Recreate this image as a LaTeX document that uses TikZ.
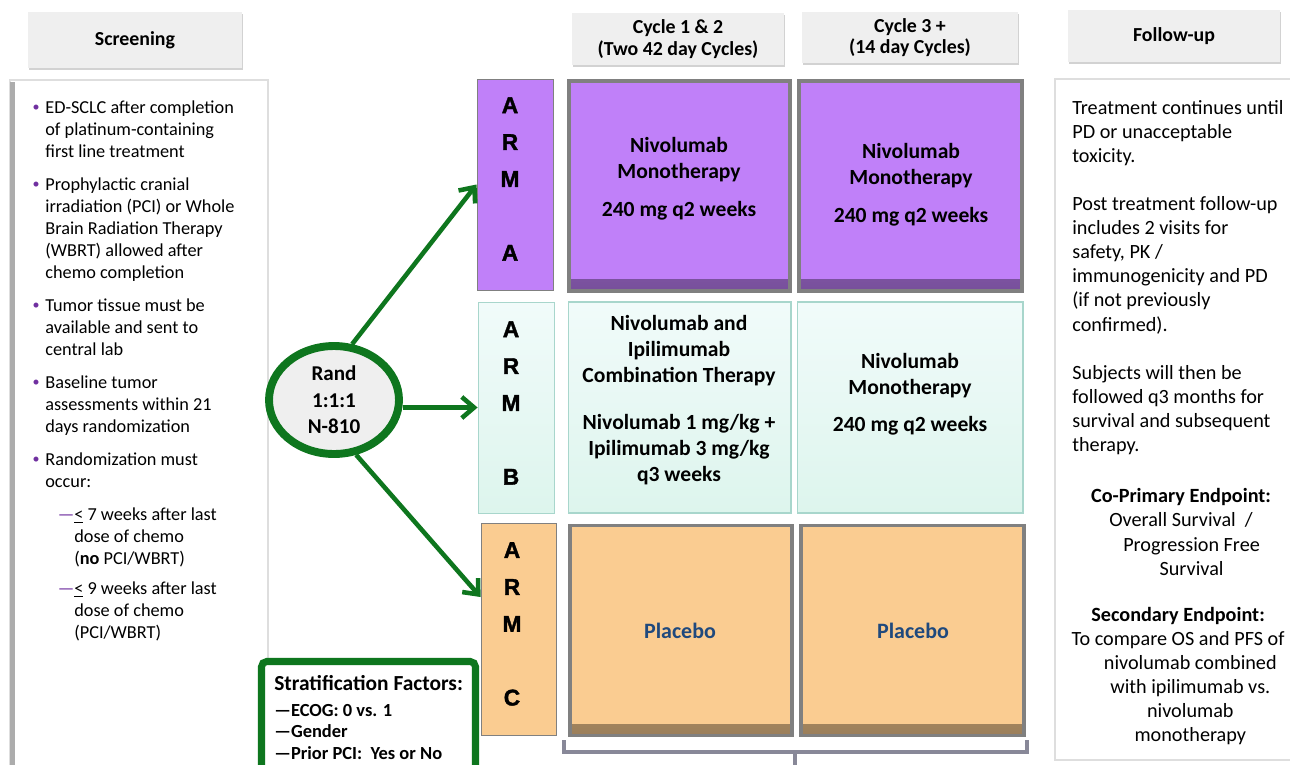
\documentclass[tikz,border=0pt]{standalone}
\usepackage{fontspec}
\setmainfont{Carlito}
\newfontfamily\armfont{Liberation Sans}[BoldFeatures={FakeBold=1.6}]
\usetikzlibrary{arrows.meta,shapes.geometric,shadows}

\definecolor{armpurple}{RGB}{192,128,249}
\definecolor{armcyantop}{RGB}{241,251,250}
\definecolor{armcyanbot}{RGB}{221,245,237}
\definecolor{armcyanline}{RGB}{168,214,204}
\definecolor{armorange}{RGB}{250,204,145}
\definecolor{cellgray}{RGB}{128,128,128}
\definecolor{headgray}{RGB}{239,239,239}
\definecolor{boxgray}{RGB}{222,222,222}
\definecolor{randgreen}{RGB}{14,118,30}
\definecolor{bulletpurple}{RGB}{112,48,160}
\definecolor{placeboblue}{RGB}{31,73,125}
\definecolor{bracketgray}{RGB}{136,136,152}

\begin{document}
\begin{tikzpicture}[x=0.02cm, y=-0.02cm,
  header/.style={fill=headgray, align=center, inner sep=0pt,
    font=\bfseries\fontsize{11.3}{12.2}\selectfont,
    drop shadow={opacity=0.35, shadow xshift=0.6pt, shadow yshift=-1.4pt}},
  armstrip/.style={draw=cellgray, line width=0.5pt, minimum width=1.52cm, minimum height=4.22cm, inner sep=0pt,
    drop shadow={opacity=0.25, shadow xshift=0.6pt, shadow yshift=-0.8pt}},
  armletters/.style={font=\armfont\bfseries\fontsize{13}{21}\selectfont, align=center, inner sep=0pt},
  cell/.style={draw=cellgray, line width=2.2pt, minimum height=4.2cm, inner sep=0pt,
    path picture={\shade[top color=#1, bottom color=#1!62!black]
      ([yshift=0.22cm]path picture bounding box.south west) rectangle (path picture bounding box.south east);},
    fill=#1},
  cyancell/.style={draw=armcyanline, line width=0.6pt, minimum height=4.22cm, inner sep=0pt,
    top color=armcyantop, bottom color=armcyanbot,
    drop shadow={opacity=0.25, shadow xshift=0.6pt, shadow yshift=-0.8pt}},
  celltext/.style={font=\bfseries\fontsize{12.3}{14.7}\selectfont, align=center, inner sep=0pt},
  randarrow/.style={-{Straight Barb[length=7pt,width=12pt]}, draw=randgreen, line width=2.6pt},
  screentext/.style={anchor=north west, inner sep=0pt, align=left, font=\fontsize{10.4}{12.6}\selectfont},
  bulletmark/.style={text=bulletpurple, inner sep=0pt, font=\fontsize{8}{8}\selectfont},
  followtext/.style={inner sep=0pt, align=left, font=\fontsize{11.5}{13.7}\selectfont}
]
\useasboundingbox (0,0) rectangle (1290,764);
\fill[white] (0,0) rectangle (1290,764);

% column heads
\node[header, minimum width=4.28cm, minimum height=1.12cm] (screenhead) at (135,40) {Screening};
\node[header, minimum width=4.24cm, minimum height=1.04cm] (cyclehead1) at (678,39) {Cycle 1 \& 2\\(Two 42 day Cycles)};
\node[header, minimum width=4.32cm, minimum height=1.02cm] (cyclehead2) at (910,37.5) {Cycle 3 +\\(14 day Cycles)};
\node[header, minimum width=4.24cm, minimum height=1.04cm] (followhead) at (1174,36) {Follow-up};

% screening
\draw[boxgray, line width=1.2pt, fill=white] (10,80) rectangle (268,800);
\draw[gray!65, line width=2.4pt] (12.5,82) -- (12.5,800);
\node[bulletmark] (b1) at (36,108) {•};
\node[screentext] (s1) at (45,100) {ED-SCLC after completion\\of platinum-containing\\first line treatment};
\node[bulletmark] (b2) at (36,185) {•};
\node[screentext] (s2) at (45,177) {Prophylactic cranial\\irradiation (PCI) or Whole\\Brain Radiation Therapy\\(WBRT) allowed after\\chemo completion};
\node[bulletmark] (b3) at (36,306) {•};
\node[screentext] (s3) at (45,298) {Tumor tissue must be\\available and sent to\\central lab};
\node[bulletmark] (b4) at (36,383) {•};
\node[screentext] (s4) at (45,375) {Baseline tumor\\assessments within 21\\days randomization};
\node[bulletmark] (b5) at (36,460) {•};
\node[screentext] (s5) at (45,452) {Randomization must\\occur:};
\node[screentext] (s6) at (74,507) {\llap{\textcolor{bulletpurple}{—}}\underline{<} 7 weeks after last\\dose of chemo\\(\textbf{no} PCI/WBRT)};
\node[screentext] (s7) at (74,581) {\llap{\textcolor{bulletpurple}{—}}\underline{<} 9 weeks after last\\dose of chemo\\(PCI/WBRT)};

% randomisation
\node[ellipse, draw=randgreen, line width=4.5pt, fill=headgray, minimum width=2.6cm, minimum height=2.16cm,
  inner sep=0pt, align=center, font=\bfseries\fontsize{12}{15}\selectfont,
  drop shadow={opacity=0.2, shadow xshift=0.5pt, shadow yshift=-0.8pt}] (rand) at (334,400) {Rand\\1:1:1\\N-810};

% stratification
\draw[randgreen, line width=4pt, rounded corners=3pt, fill=white] (261.5,800) -- (261.5,661.5) -- (475.5,661.5) -- (475.5,800);
\node[screentext, font=\bfseries\fontsize{10.5}{12.3}\selectfont] (strat) at (274,675) {{\fontsize{12.2}{12.5}\selectfont Stratification Factors:}\\[2.3pt]—ECOG: 0 vs. 1\\—Gender\\—Prior PCI:\ \ Yes or No};

% arms
\node[armstrip, fill=armpurple] (armA) at (515,184.5) {};
\node[armstrip, draw=armcyanline, top color=armcyantop, bottom color=armcyanbot] (armB) at (516,407.5) {};
\node[armstrip, fill=armorange, minimum width=1.5cm, minimum height=4.24cm] (armC) at (518.5,629) {};
\node[armletters] at (510,179) {A\\R\\M\\[21pt]A};
\node[armletters] at (511,403) {A\\R\\M\\[21pt]B};
\node[armletters] at (512,624) {A\\R\\M\\[21pt]C};

\draw[randarrow] (rand.72) -- (armA.west);
\draw[randarrow] (rand.east |- armB.west) -- (armB.west);
\draw[randarrow] (rand.-68) -- ([yshift=0.64cm]armC.west);

% treatment cells
\node[cell=armpurple, minimum width=4.42cm] (cellA1) at (679.5,186) {};
\node[cell=armpurple, minimum width=4.46cm] (cellA2) at (910.5,186) {};
\node[cyancell, minimum width=4.46cm] (cellB1) at (679.5,407.5) {};
\node[cyancell, minimum width=4.52cm] (cellB2) at (910,407.5) {};
\node[cell=armorange, minimum width=4.44cm] (cellC1) at (681,630.5) {};
\node[cell=armorange, minimum width=4.46cm] (cellC2) at (912.5,630.5) {};

\node[celltext] at (679,179) {Nivolumab\\Monotherapy\\[6.8pt]240 mg q2 weeks};
\node[celltext] at (911,185) {Nivolumab\\Monotherapy\\[6.8pt]240 mg q2 weeks};
\node[celltext] at (679,400) {Nivolumab and\\Ipilimumab\\Combination Therapy\\[12pt]Nivolumab 1 mg/kg +\\Ipilimumab 3 mg/kg\\q3 weeks};
\node[celltext] at (910,394) {Nivolumab\\Monotherapy\\[6.2pt]240 mg q2 weeks};
\node[celltext, text=placeboblue, font=\bfseries\fontsize{12.5}{14}\selectfont] at (680,631) {Placebo};
\node[celltext, text=placeboblue, font=\bfseries\fontsize{12.5}{14}\selectfont] at (913,631) {Placebo};

\draw[bracketgray, line width=1.8pt] (564,740) -- (564,752) -- (1027,752) -- (1027,740);
\draw[bracketgray, line width=1.8pt] (795,752) -- (795,770);

% follow-up
\draw[boxgray, line width=1.2pt, fill=white] (1055,79) rectangle (1300,760);
\node[followtext, anchor=north west] (f1) at (1072,100) {Treatment continues until\\PD or unacceptable\\toxicity.\\[13.7pt]Post treatment follow-up\\includes 2 visits for\\safety, PK /\\immunogenicity and PD\\(if not previously\\confirmed).\\[13.7pt]Subjects will then be\\followed q3 months for\\survival and subsequent\\therapy.};
\node[followtext, align=center] (f2) at (1181,532) {\textbf{Co-Primary Endpoint:}\\Overall Survival\ \ /\\\hspace*{12pt}Progression Free\\\hspace*{12pt}Survival};
\node[followtext, align=center] (f3) at (1178,676) {\textbf{Secondary Endpoint:}\\To compare OS and PFS of\\\hspace*{14pt}nivolumab combined\\\hspace*{14pt}with ipilimumab vs.\\\hspace*{14pt}nivolumab\\\hspace*{14pt}monotherapy};
\end{tikzpicture}
\end{document}
